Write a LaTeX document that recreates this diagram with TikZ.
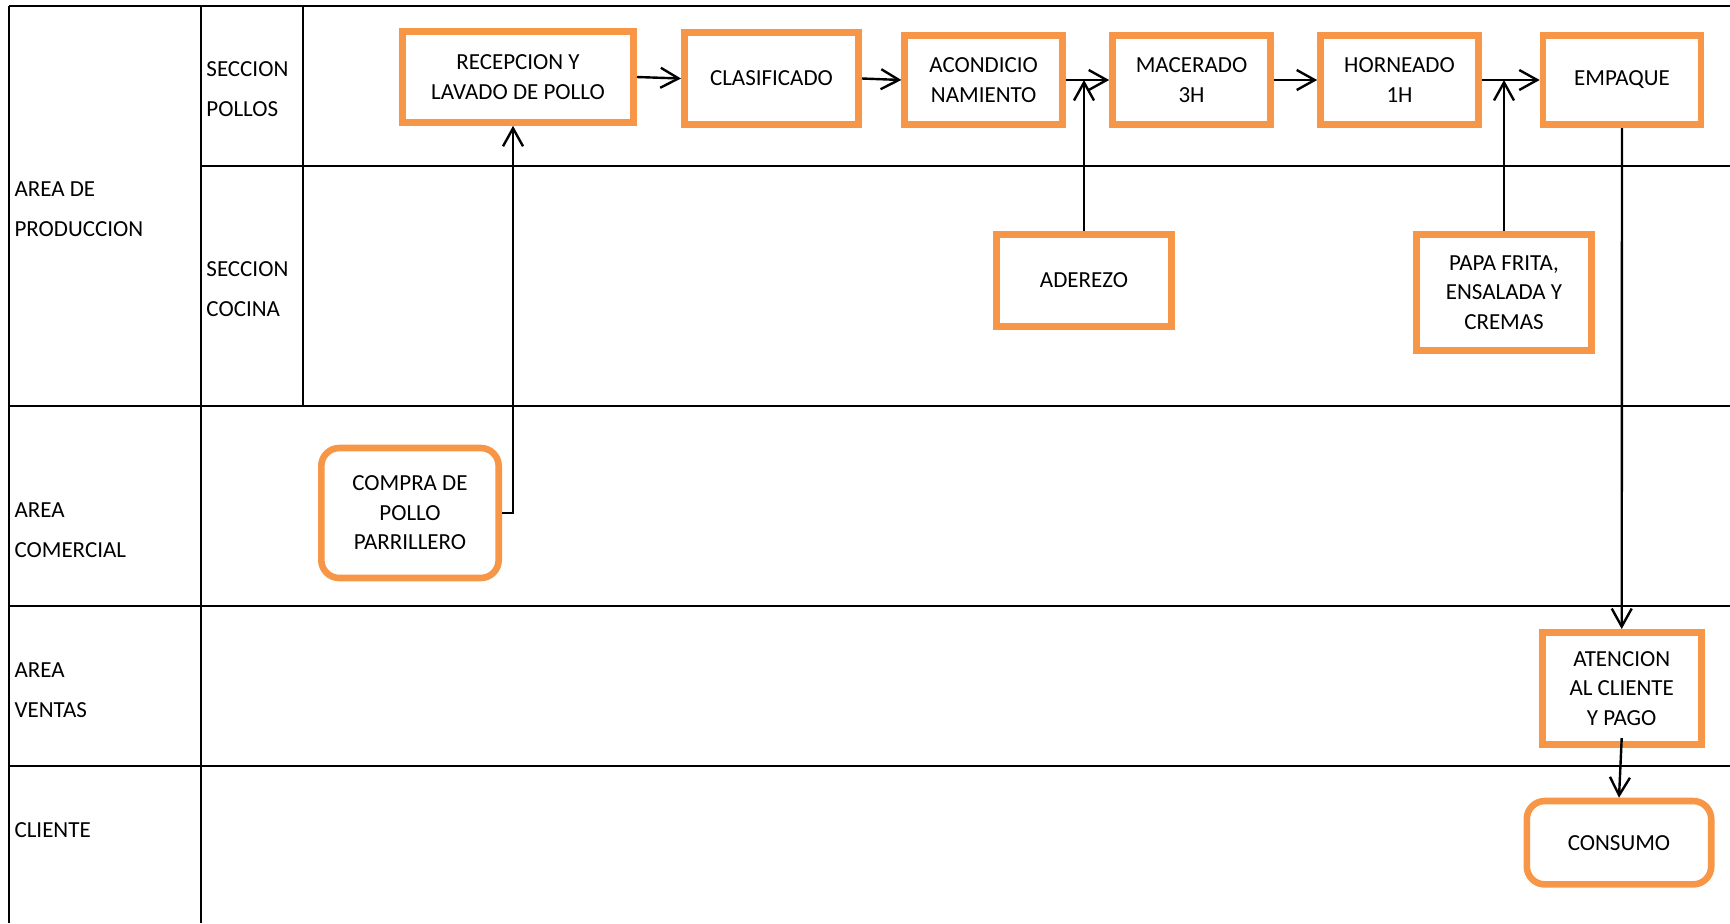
\documentclass[tikz,border=0pt]{standalone}
\usepackage{fontspec}
\setmainfont{Carlito}
\usetikzlibrary{arrows.meta,calc}
\definecolor{boxorange}{RGB}{247,150,70}
\tikzset{every picture/.style={line width=0.75pt}}

\begin{document}
\begin{tikzpicture}[x=0.5pt,y=0.5pt,yscale=-1,xscale=1,
  lane/.style={line width=1pt},
  lanelabel/.style={anchor=west,inner sep=0pt,align=left,font=\fontsize{11.5}{20}\selectfont},
  procbox/.style={draw=boxorange,line width=3.3pt,fill=white,align=center,inner sep=0pt,
    minimum width=79pt,minimum height=44.7pt,font=\fontsize{11.5}{14.7}\selectfont},
  roundbox/.style={procbox,rounded corners=9pt},
  flow/.style={line width=1.2pt,-{Straight Barb[length=9pt,width=10pt]}}]
\useasboundingbox (0,0) rectangle (1730,923);

%Lanes
\draw [lane] (9.4,5.7) -- (1730,5.7) ;
\draw [lane] (9.4,5.7) -- (9.4,923) ;
\draw [lane] (201,5.7) -- (201,923) ;
\draw [lane] (303,5.7) -- (303,406) ;
\draw [lane] (201,165.7) -- (1730,165.7) ;
\draw [lane] (9.4,406) -- (1730,406) ;
\draw [lane] (9.4,606) -- (1730,606) ;
\draw [lane] (9.4,765.7) -- (1730,765.7) ;

% Lane labels
\node [lanelabel] (lprod) at (13.8,209.5) {AREA DE\\PRODUCCION};
\node [lanelabel] (lpollos) at (205.7,89.5) {SECCION\\POLLOS};
\node [lanelabel] (lcocina) at (205.7,289.5) {SECCION\\COCINA};
\node [lanelabel] (lcomer) at (13.8,529.9) {AREA\\COMERCIAL};
\node [lanelabel] (lventas) at (13.8,689.9) {AREA\\VENTAS};
\node [lanelabel] (lcliente) at (13.8,829.9) {CLIENTE};

% Process boxes
\node [procbox,minimum width=115.7pt,minimum height=45.5pt] (recep) at (518,77) {RECEPCION Y\\LAVADO DE POLLO};
\node [procbox,minimum width=87.2pt,minimum height=46.2pt] (clasif) at (771.5,78.5) {CLASIFICADO};
\node [procbox] (acond) at (983.7,80) {ACONDICIO\\NAMIENTO};
\node [procbox] (macer) at (1191.5,80) {MACERADO\\3H};
\node [procbox] (horn) at (1399.5,80) {HORNEADO\\1H};
\node [procbox] (empaq) at (1622,80) {EMPAQUE};
\node [procbox,minimum width=87.7pt,minimum height=46.2pt] (aderezo) at (1084,280.5) {ADEREZO};
\node [procbox,minimum width=87.7pt,minimum height=58.2pt] (papa) at (1504,292.5) {PAPA FRITA,\\ENSALADA Y\\CREMAS};
\node [roundbox,minimum width=88.7pt,minimum height=65pt] (compra) at (410,513) {COMPRA DE\\POLLO\\PARRILLERO};
\node [procbox,minimum width=79.5pt,minimum height=56.2pt] (atencion) at (1621.7,688.5) {ATENCION\\AL CLIENTE\\Y PAGO};
\node [roundbox,minimum width=92.2pt,minimum height=41.7pt] (consumo) at (1619,842.7) {CONSUMO};

% Flow
\draw [flow] (recep.east) -- (clasif.west) ;
\draw [flow] (clasif.east) -- (acond.west) ;
\draw [flow] (acond.east) -- (macer.west) ;
\draw [flow] (macer.east) -- (horn.west) ;
\draw [flow] (horn.east) -- (empaq.west) ;
\draw [flow] (aderezo.north) -- (aderezo.north |- acond.east) ;
\draw [flow] (papa.north) -- (papa.north |- horn.east) ;
\draw [flow] (compra.east) -- ++(11,0) coordinate (cup) -- (cup |- recep.south) ;
\draw [flow] (empaq.south) -- (atencion.north) ;
\draw [flow] ([yshift=-5pt]atencion.south) -- (consumo.north) ;
\end{tikzpicture}
\end{document}
